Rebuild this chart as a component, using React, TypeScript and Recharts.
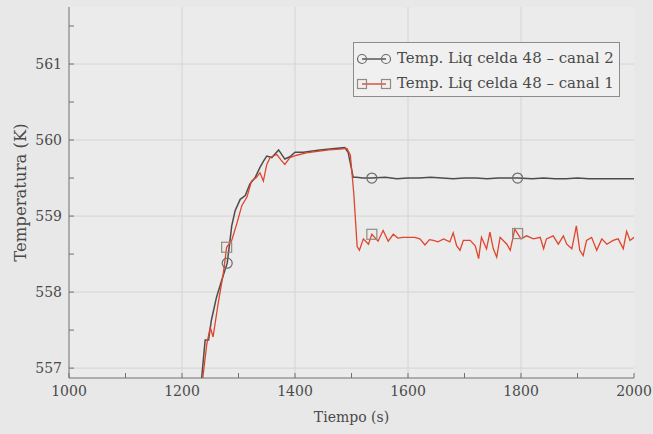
import React from "react";
import { LineChart, Line, XAxis, YAxis, CartesianGrid } from "recharts";

// canal 2 (gris, marcadores circulares)
const canal2Tiempo = [
  1229, 1241, 1247, 1252, 1261, 1270, 1280, 1285, 1288, 1294, 1303, 1312, 1320,
  1329, 1338, 1344, 1350, 1359, 1371, 1382, 1391, 1400, 1415, 1444, 1470, 1488,
  1494, 1503, 1509, 1520, 1536, 1560, 1580, 1600, 1620, 1640, 1660, 1680, 1700,
  1720, 1740, 1760, 1780, 1794, 1820, 1840, 1860, 1880, 1900, 1920, 1940, 1960,
  1980, 2000,
];
const canal2Temp = [
  556.4, 557.37, 557.37, 557.63, 557.93, 558.15, 558.38, 558.68, 558.87, 559.07,
  559.22, 559.27, 559.42, 559.5, 559.64, 559.72, 559.79, 559.77, 559.87, 559.75,
  559.78, 559.84, 559.84, 559.87, 559.89, 559.9, 559.84, 559.51, 559.51, 559.5,
  559.5, 559.51, 559.49, 559.5, 559.5, 559.51, 559.5, 559.49, 559.5, 559.5,
  559.49, 559.5, 559.5, 559.5, 559.49, 559.5, 559.49, 559.49, 559.5, 559.49,
  559.49, 559.49, 559.49, 559.49,
];
const canal2Marcas = [1280, 1536, 1794];

// canal 1 (rojo, marcadores cuadrados)
const canal1Tiempo = [
  1230, 1244, 1250, 1255, 1264, 1273, 1279, 1288, 1297, 1306, 1315, 1323, 1332,
  1338, 1344, 1350, 1356, 1368, 1375, 1382, 1391, 1403, 1420, 1440, 1460, 1480,
  1492, 1498, 1504, 1510, 1514, 1521, 1530, 1536, 1547, 1556, 1565, 1574, 1582,
  1591, 1602, 1612, 1621, 1630, 1638, 1645, 1653, 1663, 1674, 1680, 1686, 1692,
  1698, 1710, 1719, 1725, 1730, 1739, 1745, 1751, 1757, 1763, 1775, 1781, 1789,
  1794, 1800, 1810, 1822, 1834, 1840, 1845, 1857, 1866, 1875, 1881, 1890, 1898,
  1904, 1910, 1916, 1925, 1934, 1943, 1952, 1963, 1972, 1981, 1987, 1993, 2000,
];
const canal1Temp = [
  556.45, 557.32, 557.54, 557.41, 557.85, 558.24, 558.59, 558.68, 558.9, 559.14,
  559.25, 559.46, 559.51, 559.57, 559.46, 559.68, 559.77, 559.81, 559.74, 559.68,
  559.77, 559.8, 559.83, 559.85, 559.87, 559.88, 559.89, 559.8, 559.3, 558.6,
  558.55, 558.7, 558.63, 558.76, 558.67, 558.81, 558.67, 558.76, 558.71, 558.72,
  558.72, 558.72, 558.7, 558.62, 558.69, 558.68, 558.66, 558.7, 558.66, 558.78,
  558.61, 558.55, 558.68, 558.68, 558.61, 558.44, 558.72, 558.57, 558.79, 558.57,
  558.46, 558.72, 558.63, 558.55, 558.83, 558.77, 558.7, 558.74, 558.7, 558.72,
  558.57, 558.7, 558.74, 558.63, 558.74, 558.63, 558.57, 558.87, 558.55, 558.48,
  558.68, 558.72, 558.55, 558.7, 558.63, 558.68, 558.7, 558.57, 558.8, 558.68,
  558.72,
];
const canal1Marcas = [1279, 1536, 1794];

const xTicks = [1000, 1100, 1200, 1300, 1400, 1500, 1600, 1700, 1800, 1900, 2000];
const xGrid = [1200, 1400, 1600, 1800];
const yTicks = [557, 557.5, 558, 558.5, 559, 559.5, 560, 560.5, 561, 561.5];
const yGrid = [557, 558, 559, 560, 561];

const FONT = "'DejaVu Serif', serif";
const TEXT = "#4a4a4a";
const AXIS = "#707070";
const GRIS = "#4d4d4d";
const ROJO = "#e0452c";

const serie = (t: number[], v: number[], marcas: number[]) =>
  t.map((x, i) => ({ t: x, temp: v[i], mark: marcas.includes(x) }));

const datos2 = serie(canal2Tiempo, canal2Temp, canal2Marcas);
const datos1 = serie(canal1Tiempo, canal1Temp, canal1Marcas);

const Circulo = (p: any) =>
  p.payload.mark ? (
    <circle key={`c${p.index}`} cx={p.cx} cy={p.cy} r={5} fill="none" stroke="#6b6b6b" strokeWidth={1.2} />
  ) : (
    <g key={`c${p.index}`} />
  );

const Cuadro = (p: any) =>
  p.payload.mark ? (
    <rect key={`s${p.index}`} x={p.cx - 5} y={p.cy - 5} width={10} height={10} fill="none" stroke="#948a80" strokeWidth={1.2} />
  ) : (
    <g key={`s${p.index}`} />
  );

// ticks hacia dentro; solo los mayores llevan texto
const TickAbajo = ({ x, y, payload }: any) => (
  <g>
    <line x1={x} x2={x} y1={y} y2={y - 5} stroke={AXIS} />
    {payload.value % 200 === 0 && (
      <text x={x} y={y + 18} textAnchor="middle" fill={TEXT} fontSize={14} fontFamily={FONT}>
        {payload.value}
      </text>
    )}
  </g>
);
const TickArriba = ({ x, y }: any) => <line x1={x} x2={x} y1={y} y2={y + 5} stroke={AXIS} />;
const TickIzq = ({ x, y, payload }: any) => (
  <g>
    <line x1={x} x2={x + 5} y1={y} y2={y} stroke={AXIS} />
    {Number.isInteger(payload.value) && (
      <text x={x - 7} y={y + 5} textAnchor="end" fill={TEXT} fontSize={14} fontFamily={FONT}>
        {payload.value}
      </text>
    )}
  </g>
);
const TickDer = ({ x, y }: any) => <line x1={x} x2={x - 5} y1={y} y2={y} stroke={AXIS} />;

const Icono = ({ color, marca }: { color: string; marca: "c" | "s" }) => (
  <svg width={36} height={14} style={{ verticalAlign: "middle" }}>
    <line x1={6} x2={30} y1={7} y2={7} stroke={color} strokeWidth={1.4} />
    {marca === "c" ? (
      <>
        <circle cx={6} cy={7} r={4.5} fill="none" stroke="#6b6b6b" strokeWidth={1.2} />
        <circle cx={30} cy={7} r={4.5} fill="none" stroke="#6b6b6b" strokeWidth={1.2} />
      </>
    ) : (
      <>
        <rect x={1.5} y={2.5} width={9} height={9} fill="none" stroke="#948a80" strokeWidth={1.2} />
        <rect x={25.5} y={2.5} width={9} height={9} fill="none" stroke="#948a80" strokeWidth={1.2} />
      </>
    )}
  </svg>
);

export default function App() {
  return (
    <div style={{ position: "absolute", left: 0, top: 0, width: 653, height: 434, background: "#e8e8e8" }}>
      <LineChart width={653} height={434} margin={{ top: 7, right: 19, bottom: 0, left: 0 }}>
        <CartesianGrid
          fill="#ebebeb"
          stroke="#d4d4d4"
          horizontalValues={yGrid}
          verticalValues={xGrid}
        />
        <XAxis
          dataKey="t"
          type="number"
          domain={[1000, 2000]}
          ticks={xTicks}
          interval={0}
          height={56}
          tickSize={0}
          tickMargin={0}
          tickLine={false}
          tick={<TickAbajo />}
          axisLine={{ stroke: AXIS }}
          allowDataOverflow
          label={{ value: "Tiempo (s)", position: "insideBottom", offset: 12, fill: TEXT, fontSize: 14, fontFamily: FONT }}
        />
        <XAxis
          xAxisId="top"
          orientation="top"
          dataKey="t"
          type="number"
          domain={[1000, 2000]}
          ticks={xTicks}
          interval={0}
          height={0}
          tickSize={0}
          tickMargin={0}
          tickLine={false}
          tick={<TickArriba />}
          axisLine={{ stroke: AXIS }}
        />
        <YAxis
          type="number"
          domain={[556.87, 561.75]}
          ticks={yTicks}
          interval={0}
          width={69}
          tickSize={0}
          tickMargin={0}
          tickLine={false}
          tick={<TickIzq />}
          axisLine={{ stroke: AXIS }}
          allowDataOverflow
          label={{
            value: "Temperatura (K)",
            angle: -90,
            position: "insideLeft",
            offset: 20,
            fill: TEXT,
            fontSize: 16.5,
            fontFamily: FONT,
            style: { textAnchor: "middle" },
          }}
        />
        <YAxis
          yAxisId="right"
          orientation="right"
          type="number"
          domain={[556.87, 561.75]}
          ticks={yTicks}
          interval={0}
          width={0}
          tickSize={0}
          tickMargin={0}
          tickLine={false}
          tick={<TickDer />}
          axisLine={{ stroke: AXIS }}
        />
        <Line
          data={datos2}
          dataKey="temp"
          stroke={GRIS}
          strokeWidth={1.5}
          dot={Circulo}
          activeDot={false}
          isAnimationActive={false}
        />
        <Line
          data={datos1}
          dataKey="temp"
          stroke={ROJO}
          strokeWidth={1.3}
          dot={Cuadro}
          activeDot={false}
          isAnimationActive={false}
        />
      </LineChart>
      <div
        style={{
          position: "absolute",
          left: 353,
          top: 42,
          width: 267,
          height: 55,
          border: "1px solid #8c8c8c",
          background: "#f0f0f0",
          fontFamily: FONT,
          fontSize: 15,
          color: TEXT,
          boxSizing: "border-box",
          padding: "3px 0 0 2px",
          lineHeight: "25px",
          whiteSpace: "nowrap",
        }}
      >
        <div>
          <Icono color={GRIS} marca="c" />
          <span style={{ marginLeft: 5 }}>Temp. Liq celda 48 – canal 2</span>
        </div>
        <div>
          <Icono color={ROJO} marca="s" />
          <span style={{ marginLeft: 5 }}>Temp. Liq celda 48 – canal 1</span>
        </div>
      </div>
    </div>
  );
}
